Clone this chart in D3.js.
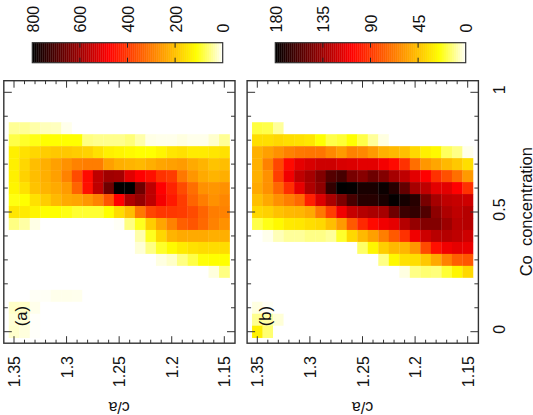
<!DOCTYPE html>
<html>
<head>
<meta charset="utf-8">
<script src="https://cdn.jsdelivr.net/npm/d3@7"></script>
<style>
  html, body { margin: 0; padding: 0; background: #fff; }
  text { font-family: "Liberation Sans", sans-serif; fill: #111; }
</style>
</head>
<body>
<script>
var caValues = [1.35,1.34,1.33,1.32,1.31,1.30,1.29,1.28,1.27,1.26,1.25,1.24,1.23,1.22,1.21,1.20,1.19,1.18,1.17,1.16,1.15];
var coValues = [0.85,0.80,0.75,0.70,0.65,0.60,0.55,0.50,0.45,0.40,0.35,0.30,0.25,0.20,0.15,0.10,0.05,0];

// rows run from Co 0.85 down to Co 0, columns from c/a 1.35 to 1.15
var countsA = [
  [46,46,38,30,28,9,0,0,0,0,0,0,0,0,0,0,0,0,0,0,0],
  [81,94,103,112,112,112,112,55,50,50,50,59,37,11,9,9,13,9,9,22,46],
  [134,155,170,184,191,191,184,177,155,134,126,119,112,112,126,148,155,141,141,148,155],
  [134,170,206,227,249,271,292,300,300,249,227,220,213,227,242,249,256,235,220,199,206],
  [134,177,206,227,249,292,372,466,562,599,593,518,480,458,408,393,307,264,235,220,227],
  [126,155,199,220,235,256,336,458,562,662,800,800,662,562,480,430,372,321,271,264,271],
  [105,112,155,184,213,235,242,264,292,357,480,581,612,562,492,444,393,336,300,271,285],
  [148,141,126,112,112,103,90,90,90,112,162,206,307,379,401,401,393,372,336,300,292],
  [55,40,11,0,0,0,0,0,0,0,4,55,99,184,242,292,343,357,329,292,271],
  [0,0,0,0,0,0,0,0,0,0,0,0,37,99,170,220,235,235,235,227,227],
  [0,0,0,0,0,0,0,0,0,0,0,0,18,55,94,119,141,155,162,162,162],
  [0,0,0,0,0,0,0,0,0,0,0,0,0,0,13,24,55,81,108,112,112],
  [0,0,0,0,0,0,0,0,0,0,0,0,0,0,0,0,0,0,0,15,55],
  [0,0,0,0,0,0,0,0,0,0,0,0,0,0,0,0,0,0,0,0,0],
  [0,0,4,4,9,9,8,0,0,0,0,0,0,0,0,0,0,0,0,0,0],
  [24,24,9,0,0,0,0,0,0,0,0,0,0,0,0,0,0,0,0,0,0],
  [18,18,2,0,0,0,0,0,0,0,0,0,0,0,0,0,0,0,0,0,0],
  [22,15,2,0,0,0,0,0,0,0,0,0,0,0,0,0,0,0,0,0,0]
];

var countsB = [
  [19,18,10,0,0,0,0,0,0,0,0,0,0,0,0,0,0,0,0,0,0],
  [36,36,38,36,35,33,25,18,20,25,18,10,3,0,0,0,0,0,0,0,0],
  [51,56,61,66,69,70,70,64,58,66,64,58,51,48,46,38,30,27,16,12,2],
  [51,66,85,105,115,119,122,122,119,118,116,116,111,105,92,72,59,54,48,43,36],
  [51,61,88,112,126,133,143,156,160,146,142,149,143,133,126,116,108,92,82,72,58],
  [53,61,75,93,115,131,140,166,180,179,173,173,177,169,152,133,126,116,116,108,92],
  [46,53,61,67,74,98,118,132,145,160,169,169,173,179,174,169,146,133,126,124,122],
  [38,40,45,48,49,53,69,88,112,124,129,132,133,149,163,166,157,140,131,126,129],
  [18,23,27,32,33,36,38,46,58,79,95,105,112,115,129,138,143,143,136,128,129],
  [0,2,7,10,10,12,12,10,21,38,48,56,67,79,92,112,122,128,129,126,122],
  [0,0,0,0,0,0,0,0,0,0,15,28,41,48,49,59,84,103,112,115,114],
  [0,0,0,0,0,0,0,0,0,0,0,0,12,27,35,36,43,53,66,77,80],
  [0,0,0,0,0,0,0,0,0,0,0,0,0,0,3,12,14,13,20,28,38],
  [0,0,0,0,0,0,0,0,0,0,0,0,0,0,0,0,0,0,0,0,0],
  [0,0,0,0,0,0,0,0,0,0,0,0,0,0,0,0,0,0,0,0,0],
  [3,1,0,0,0,0,0,0,0,0,0,0,0,0,0,0,0,0,0,0,0],
  [11,9,4,0,0,0,0,0,0,0,0,0,0,0,0,0,0,0,0,0,0],
  [30,14,0,0,0,0,0,0,0,0,0,0,0,0,0,0,0,0,0,0,0]
];

var cbTicksA = [0,200,400,600,800];
var cbTicksB = [0,45,90,135,180];
var caTicks = [1.35,1.3,1.25,1.2,1.15];
var caLabels = ["1.35","1.3","1.25","1.2","1.15"];
var coMajor = [0,0.5,1];
var coMinor = [0.1,0.2,0.3,0.4,0.6,0.7,0.8,0.9];
var caMinor = [1.34,1.33,1.32,1.31,1.29,1.28,1.27,1.26,1.24,1.23,1.22,1.21,1.19,1.18,1.17,1.16];

var width = 533, height = 415;
var frameColor = "#333";

var svg = d3.select("body").append("svg")
    .attr("width", width)
    .attr("height", height)
    .style("display", "block");

// white -> yellow -> red -> black, same for both panels
var palette = d3.scaleLinear()
    .domain([0, 0.14, 0.6, 1])
    .range(["#ffffff", "#ffff00", "#ff0000", "#000000"])
    .clamp(true);

var coScale = d3.scaleLinear().domain([0, 1]).range([331.7, 92.3]);

function drawPanel(counts, max, left, right, label) {
  var caScale = d3.scaleLinear().domain([1.35, 1.15]).range([left, right]);
  var cellW = Math.abs(caScale(1.34) - caScale(1.35));
  var cellH = Math.abs(coScale(0.05) - coScale(0));
  var g = svg.append("g");

  // heat map cells
  counts.forEach(function(row, r) {
    g.selectAll(null)
        .data(row)
      .enter().append("rect")
        .attr("x", function(d, c) { return caScale(caValues[c]) - cellW / 2; })
        .attr("y", coScale(coValues[r]) - cellH / 2)
        .attr("width", cellW + 0.3)
        .attr("height", cellH + 0.3)
        .attr("fill", function(d) { return palette(d / max); });
  });

  var top = 80.7, bottom = 343.2, fLeft = left - 10.2, fRight = right + 10.7;

  // c/a ticks along top and bottom
  function caTick(vals, len) {
    [[top, 1], [bottom, -1]].forEach(function(s) {
      g.selectAll(null).data(vals).enter().append("line")
          .attr("x1", function(d) { return caScale(d); })
          .attr("x2", function(d) { return caScale(d); })
          .attr("y1", s[0])
          .attr("y2", s[0] + s[1] * len)
          .attr("stroke", frameColor);
    });
  }
  caTick(caTicks, 7);
  caTick(caMinor, 3.5);

  // Co ticks along left and right
  function coTick(vals, len) {
    [[fLeft, 1], [fRight, -1]].forEach(function(s) {
      g.selectAll(null).data(vals).enter().append("line")
          .attr("y1", function(d) { return coScale(d); })
          .attr("y2", function(d) { return coScale(d); })
          .attr("x1", s[0])
          .attr("x2", s[0] + s[1] * len)
          .attr("stroke", frameColor);
    });
  }
  coTick(coMajor, 8);
  coTick(coMinor, 4);

  g.append("rect")
      .attr("x", fLeft)
      .attr("y", top)
      .attr("width", fRight - fLeft)
      .attr("height", bottom - top)
      .attr("fill", "none")
      .attr("stroke", frameColor)
      .attr("stroke-width", 1.4);

  // c/a tick labels read upward, the title below them is upside down
  g.selectAll(null).data(caTicks).enter().append("text")
      .attr("transform", function(d) { return "translate(" + (caScale(d) + 6) + ",356) rotate(-90)"; })
      .attr("text-anchor", "end")
      .style("font-size", "16px")
      .text(function(d, i) { return caLabels[i]; });

  g.append("text")
      .attr("transform", "translate(" + caScale(1.25) + ",402) rotate(180)")
      .attr("text-anchor", "middle")
      .style("font-size", "16px")
      .text("c/a");

  g.append("text")
      .attr("transform", "translate(" + (fLeft + 23.5) + "," + coScale(0.065) + ") rotate(-90)")
      .attr("text-anchor", "middle")
      .style("font-size", "16.5px")
      .text(label);
}

function drawColorbar(ticks, left, right) {
  var max = ticks[ticks.length - 1];
  var cb = d3.scaleLinear().domain([0, max]).range([right, left]);
  var g = svg.append("g");
  var barTop = 42.7, barBottom = 62.7;

  g.selectAll(null)
      .data(d3.range(0, 1, 1 / 95))
    .enter().append("rect")
      .attr("x", function(d) { return cb((d + 1 / 95) * max); })
      .attr("y", barTop)
      .attr("width", (right - left) / 95 + 0.3)
      .attr("height", barBottom - barTop)
      .attr("fill", function(d) { return palette(d + 0.5 / 95); });

  g.selectAll(null).data(ticks.slice(1, -1)).enter().append("line")
      .attr("x1", function(d) { return cb(d); })
      .attr("x2", function(d) { return cb(d); })
      .attr("y1", barTop)
      .attr("y2", barTop + 5)
      .attr("stroke", "#222");
  g.selectAll(null).data(ticks.slice(1, -1)).enter().append("line")
      .attr("x1", function(d) { return cb(d); })
      .attr("x2", function(d) { return cb(d); })
      .attr("y1", barBottom)
      .attr("y2", barBottom - 5)
      .attr("stroke", "#222");

  g.append("rect")
      .attr("x", left)
      .attr("y", barTop)
      .attr("width", right - left)
      .attr("height", barBottom - barTop)
      .attr("fill", "none")
      .attr("stroke", frameColor)
      .attr("stroke-width", 1.2);

  g.selectAll(null).data(ticks).enter().append("text")
      .attr("transform", function(d) { return "translate(" + (cb(d) + 6.5) + ",32.5) rotate(-90)"; })
      .style("font-size", "16px")
      .text(function(d) { return d; });
}

drawPanel(countsA, 800, 14, 224.3, "(a)");
drawPanel(countsB, 180, 257.3, 467.7, "(b)");
drawColorbar(cbTicksA, 32.3, 222.7);
drawColorbar(cbTicksB, 275.3, 465.7);

// Co axis labels sit only beside the right panel
svg.selectAll(null).data(coMajor).enter().append("text")
    .attr("transform", function(d) { return "translate(505," + (coScale(d) - 2.5) + ") rotate(-90)"; })
    .attr("text-anchor", "middle")
    .style("font-size", "16px")
    .text(function(d) { return d; });

svg.append("text")
    .attr("transform", "translate(531.5,211.7) rotate(-90)")
    .attr("text-anchor", "middle")
    .style("font-size", "16.5px")
    .style("white-space", "pre")
    .text("Co  concentration");
</script>
</body>
</html>
